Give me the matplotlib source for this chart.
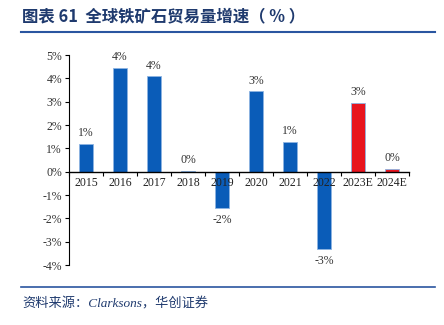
import numpy as np
import matplotlib
matplotlib.use("Agg")
import matplotlib.pyplot as plt
from matplotlib.lines import Line2D

years = ["2015", "2016", "2017", "2018", "2019", "2020", "2021", "2022", "2023E", "2024E"]
growth = [1.2, 4.45, 4.08, 0.05, -1.56, 3.45, 1.27, -3.3, 2.95, 0.13]  # %
is_forecast = [False] * 8 + [True] * 2
yticks = list(range(-4, 6))

blue = "#0A5CB8"
red = "#E8141E"
navy = "#1F3A6E"

plt.rcParams['font.family'] = ['Liberation Serif', 'Noto Sans CJK SC']

fig = plt.figure(figsize=(4.44, 3.25), dpi=100)
ax = fig.add_axes([69/444, 1 - 265/325, 340/444, 210/325])

x = np.arange(len(years))
colors = [red if f else blue for f in is_forecast]
ax.bar(x, growth, width=0.41, color=colors, edgecolor="#8DB4E2", linewidth=0.6, zorder=1)

for xi, v in zip(x, growth):
    lab = "%d%%" % round(v)
    if v >= 0:
        ax.text(xi, v + 0.2, lab, ha="center", va="bottom", fontsize=8.5, color="#333333")
    else:
        ax.text(xi, v - 0.25, lab, ha="center", va="top", fontsize=8.5, color="#333333")

ax.set_xlim(-0.5, len(years) - 0.5)
ax.set_ylim(-4, 5)
ax.set_yticks(yticks)
ax.set_yticklabels(["%d%%" % t for t in yticks], fontsize=8.5, color="#333333")

ax.spines["top"].set_visible(False)
ax.spines["right"].set_visible(False)
ax.spines["bottom"].set_position(("data", 0))
ax.spines["left"].set_linewidth(0.8)
ax.spines["bottom"].set_linewidth(1.0)

ax.set_xticks(x)
ax.set_xticklabels(years, fontsize=8.5, color="#222222")
ax.set_xticks(np.arange(-0.5, len(years)), minor=True)
ax.tick_params(axis="x", which="major", length=0, pad=4)
ax.tick_params(axis="x", which="minor", length=3, width=0.8, direction="out")
ax.tick_params(axis="y", length=3, width=0.8, pad=2)
ax.xaxis.set_zorder(5)

# title, rules and source
fig.text(22/444, 1 - 17/325, "图表 61  全球铁矿石贸易量增速（ % ）", fontsize=11.8,
         fontweight="bold", color=navy, va="center", ha="left",
         family=['Noto Sans CJK SC', 'DejaVu Sans'])
fig.add_artist(Line2D([21/444, 435/444], [1 - 32/325, 1 - 32/325], color="#2A55A0", lw=1.5))
fig.add_artist(Line2D([21/444, 435/444], [1 - 287/325, 1 - 287/325], color="#2A55A0", lw=1.2))
fig.text(22/444, 1 - 304/325, "资料来源：Clarksons，华创证券", fontsize=9.5, style="italic",
         color=navy, va="center", ha="left",
         family=['Liberation Serif', 'Noto Sans CJK SC'])

fig.savefig("out.png", dpi=100)
